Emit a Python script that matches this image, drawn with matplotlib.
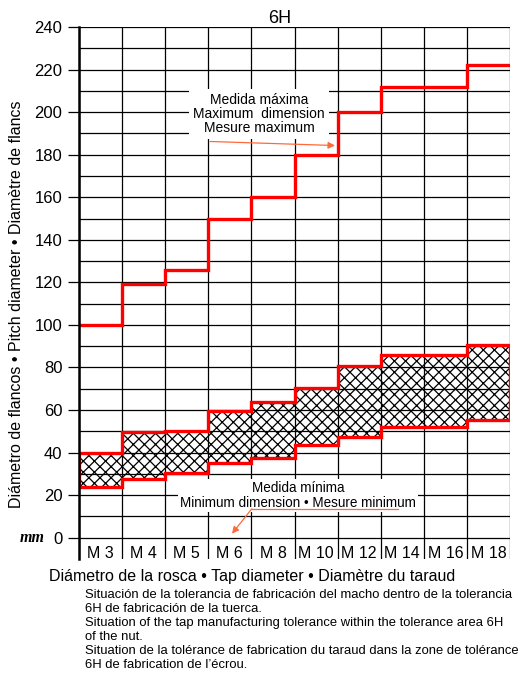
import matplotlib
matplotlib.use("Agg")
import matplotlib.pyplot as plt
import numpy as np

plt.rcParams['font.family'] = ['Liberation Sans', 'DejaVu Sans']
plt.rcParams['hatch.linewidth'] = 0.9

# ---- data ----
sizes = ['M 3', 'M 4', 'M 5', 'M 6', 'M 8', 'M 10', 'M 12', 'M 14', 'M 16', 'M 18']
max_dim = [100, 119, 126, 150, 160, 180, 200, 212, 212, 222]
min_low = [24, 27.5, 30.5, 35, 37.5, 43.5, 47.5, 52, 52, 55.5]
min_high = [40, 49.5, 50, 59.5, 64, 70.5, 80.5, 86, 86, 90.5]
yticks = list(range(0, 241, 20))
title = '6H'
ylabel = 'Diámetro de flancos • Pitch diameter • Diamètre de flancs'
xlabel = 'Diámetro de la rosca • Tap diameter • Diamètre du taraud'
max_text = 'Medida máxima\nMaximum  dimension\nMesure maximum'
min_text = 'Medida mínima\nMinimum dimension • Mesure minimum'
note = ('Situación de la tolerancia de fabricación del macho dentro de la tolerancia\n'
        '6H de fabricación de la tuerca.\n'
        'Situation of the tap manufacturing tolerance within the tolerance area 6H\n'
        'of the nut.\n'
        'Situation de la tolérance de fabrication du taraud dans la zone de tolérance\n'
        '6H de fabrication de l\u2019écrou.')

W, H = 523, 673
fig = plt.figure(figsize=(W / 100, H / 100), dpi=100)
L, R, T, B = 79, 510, 27, 559
ax = fig.add_axes([L / W, 1 - B / H, (R - L) / W, (B - T) / H])

n = len(sizes)
edges = np.arange(n + 1)
ymin, ymax = -10, 240
ax.set_xlim(0, n)
ax.set_ylim(ymin, ymax)

# grid
for y in range(0, 241, 10):
    ax.axhline(y, color='black', lw=0.9, zorder=2)
for x in edges:
    ax.axvline(x, color='black', lw=0.9, zorder=2)

# hatched min zone
ax.stairs(min_high, edges, baseline=min_low, fill=True, facecolor='none',
          edgecolor='black', hatch='xxx', lw=0, zorder=1)
# red outlines
red = '#ff0000'
ax.stairs(max_dim, edges, baseline=None, color=red, lw=2.4, zorder=3)
ax.stairs(min_high, edges, baseline=None, color=red, lw=2.4, zorder=3)
ax.stairs(min_low, edges, baseline=None, color=red, lw=2.4, zorder=3)
ax.vlines([0], [min_low[0]], [min_high[0]], color=red, lw=2.4, zorder=3)
ax.vlines([n], [min_low[-1]], [min_high[-1]], color=red, lw=2.4, zorder=3)

# axes styling
for s in ['top', 'right', 'bottom']:
    ax.spines[s].set_visible(False)
ax.spines['left'].set_linewidth(1.8)
ax.spines['left'].set_zorder(4)
ax.set_yticks(yticks)
ax.set_yticklabels([str(v) for v in yticks], fontsize=12)
ax.tick_params(axis='y', direction='out', length=8, width=0.9, pad=4)
ax.set_xticks(edges[:-1] + 0.5)
ax.set_xticklabels(sizes, fontsize=11.5)
ax.tick_params(axis='x', length=0, pad=-9.5)

ax.annotate('mm', xy=(0, 0), xycoords=('axes fraction', 'data'),
            xytext=(-24.5, 0), textcoords='offset points', ha='right', va='center',
            fontsize=11.5, fontstyle='italic', fontweight='bold', family='Liberation Serif')

ax.set_title(title, fontsize=13, pad=3, x=0.465)
fig.text(17 / W, 1 - 304 / H, ylabel, rotation=90, ha='center', va='center', fontsize=11.5)
fig.text(252 / W, 1 - 576 / H, xlabel, ha='center', va='center', fontsize=11.5)
fig.text(85 / W, 1 - 589 / H, note, ha='left', va='top', fontsize=9.4, linespacing=1.22)

orange = '#ff6a3a'
# max annotation
ax.text(4.18, 199.0, max_text, ha='center', va='center', fontsize=10,
        linespacing=1.0, zorder=5,
        bbox=dict(facecolor='white', edgecolor='none', pad=3))
ax.annotate('', xy=(5.94, 184.3), xytext=(3.04, 186.2),
            arrowprops=dict(arrowstyle='-|>', color=orange, lw=0.9,
                            mutation_scale=10, shrinkA=0, shrinkB=0), zorder=6)
# min annotation
ax.text(5.08, 19.8, min_text, ha='center', va='center', fontsize=9.75,
        linespacing=1.05, zorder=5,
        bbox=dict(facecolor='white', edgecolor='none', pad=1.5))
ax.plot([4.01, 7.40], [13.6, 13.6], color=orange, lw=0.9, zorder=6)
ax.annotate('', xy=(3.55, 1.9), xytext=(4.01, 13.6),
            arrowprops=dict(arrowstyle='-|>', color=orange, lw=0.9,
                            mutation_scale=10, shrinkA=0, shrinkB=0), zorder=6)

fig.savefig('out.png', dpi=100)
